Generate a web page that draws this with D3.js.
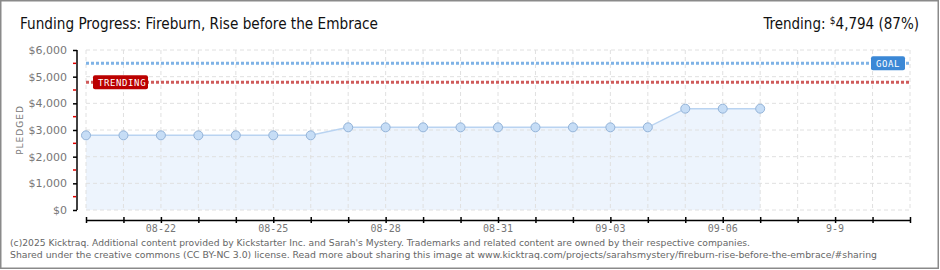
<!DOCTYPE html>
<meta charset="utf-8">
<style>
body { margin: 0; background: #fff; }
svg text { font-family: "DejaVu Sans", sans-serif; }
</style>
<svg width="940" height="270"></svg>
<script src="https://d3js.org/d3.v7.min.js"></script>
<script>

// data
var days = ["08-20","08-21","08-22","08-23","08-24","08-25","08-26","08-27","08-28","08-29",
            "08-30","08-31","09-01","09-02","09-03","09-04","09-05","09-06","09-07"];
var pledged = [2800,2800,2800,2800,2800,2800,2800,3100,3100,3100,
               3100,3100,3100,3100,3100,3100,3800,3800,3800];
var goal = 5500;
var trending = 4794;
var yTicks = [0,1000,2000,3000,4000,5000,6000];
var xLabels = ["08-22","08-25","08-28","08-31","09-03","09-06","9-9"];
var xLabelDays = ["08-22","08-25","08-28","08-31","09-03","09-06","09-09"];

var parse = d3.timeParse("%Y-%m-%d");
function day(s) { return parse("2025-" + s); }

var svg = d3.select("svg");

// frame
svg.append("rect").attr("x", 0.75).attr("y", 0.75).attr("width", 937.5).attr("height", 267.5)
  .attr("fill", "#fff").attr("stroke", "#8a8a8a").attr("stroke-width", 1.5);

var x = d3.scaleTime().domain([day("08-20"), day("09-11")]).range([86, 910]);
var y = d3.scaleLinear().domain([0, 6000]).range([210, 50]);

// title
svg.append("text").attr("x", 20).attr("y", 29)
  .attr("font-size", 15).attr("fill", "#111")
  .attr("textLength", 358).attr("lengthAdjust", "spacingAndGlyphs")
  .style("font-family", "'DejaVu Sans Condensed', sans-serif")
  .text("Funding Progress: Fireburn, Rise before the Embrace");

var tr = svg.append("text").attr("x", 919).attr("y", 29).attr("text-anchor", "end")
  .attr("font-size", 15).attr("fill", "#111")
  .style("font-family", "'DejaVu Sans Condensed', sans-serif");
tr.append("tspan").text("Trending:  ");
tr.append("tspan").attr("font-size", 10).attr("dy", -5).text("$");
tr.append("tspan").attr("dy", 5).text(d3.format(",")(trending) + " (" + Math.round(trending / goal * 100) + "%)");

// area
var pts = days.map(function(d, i) { return { date: day(d), v: pledged[i] }; });
svg.append("path").datum(pts)
  .attr("fill", "#edf4fd")
  .attr("d", d3.area().x(function(d) { return x(d.date); }).y0(y(0)).y1(function(d) { return y(d.v); }));

// grid
var allDays = d3.timeDay.range(day("08-20"), d3.timeDay.offset(day("09-11"), 1));
svg.append("g").selectAll("line").data(allDays).enter().append("line")
  .attr("x1", function(d) { return x(d); }).attr("x2", function(d) { return x(d); })
  .attr("y1", y(6000)).attr("y2", y(0))
  .attr("stroke", "#e0e0e0").attr("stroke-dasharray", "4,3");
svg.append("g").selectAll("line").data(yTicks).enter().append("line")
  .attr("x1", 86).attr("x2", 910)
  .attr("y1", function(d) { return y(d); }).attr("y2", function(d) { return y(d); })
  .attr("stroke", "#e0e0e0").attr("stroke-dasharray", "4,3");

// line
svg.append("path").datum(pts)
  .attr("fill", "none").attr("stroke", "#b9d3f1").attr("stroke-width", 1.5)
  .attr("d", d3.line().x(function(d) { return x(d.date); }).y(function(d) { return y(d.v); }));

// goal & trending lines
svg.append("line").attr("x1", 86).attr("x2", 910).attr("y1", y(goal)).attr("y2", y(goal))
  .attr("stroke", "#7fb3e6").attr("stroke-width", 3).attr("stroke-dasharray", "3,2");
svg.append("line").attr("x1", 86).attr("x2", 910).attr("y1", y(trending)).attr("y2", y(trending))
  .attr("stroke", "#cf5b5b").attr("stroke-width", 3).attr("stroke-dasharray", "3,2");

// points
svg.append("g").selectAll("circle").data(pts).enter().append("circle")
  .attr("cx", function(d) { return x(d.date); }).attr("cy", function(d) { return y(d.v); })
  .attr("r", 4.5).attr("fill", "#c6ddf6").attr("stroke", "#93b3d8").attr("stroke-width", 1);

// badges
function badge(bx, by, w, label, color) {
  svg.append("rect").attr("x", bx).attr("y", by).attr("width", w).attr("height", 14)
    .attr("rx", 2).attr("fill", color);
  svg.append("text").attr("x", bx + 5).attr("y", by + 10.5)
    .attr("font-size", 9).attr("fill", "#fff").attr("letter-spacing", 0.6)
    .style("font-family", "'DejaVu Sans Mono', monospace")
    .text(label);
}
badge(93, y(trending) - 7, 55, "TRENDING", "#bb0000");
badge(871, y(goal) - 7, 34, "GOAL", "#3b88d6");

// y axis
var yAxis = d3.axisLeft(y).tickValues(yTicks).tickSize(4).tickPadding(6)
  .tickFormat(d3.format("$,"));
var gy = svg.append("g").attr("transform", "translate(77,0)").call(yAxis);
gy.select(".domain").attr("stroke", "#000").attr("stroke-width", 1.5).attr("d", "M0,50V210");
gy.selectAll(".tick line").attr("stroke", "#000").attr("stroke-width", 1.5);
gy.selectAll(".tick text").attr("fill", "#777").attr("font-size", 11)
  .style("font-family", "'DejaVu Sans', sans-serif");
svg.append("g").selectAll("line").data(d3.range(500, 6000, 1000)).enter().append("line")
  .attr("x1", 73).attr("x2", 76).attr("y1", function(d) { return y(d); }).attr("y2", function(d) { return y(d); })
  .attr("stroke", "#e00000").attr("stroke-width", 1.5);

svg.append("text").attr("transform", "translate(23,130) rotate(-90)")
  .attr("text-anchor", "middle").attr("font-size", 9).attr("fill", "#777")
  .attr("letter-spacing", 1)
  .text("PLEDGED");

// x axis
var xAxis = d3.axisBottom(x).tickValues(allDays).tickSize(0).tickFormat("");
var gx = svg.append("g").attr("transform", "translate(0,220)").call(xAxis);
gx.select(".domain").attr("stroke", "#000").attr("stroke-width", 1.5);
gx.selectAll(".tick line").attr("y1", -3).attr("y2", 3).attr("stroke", "#000").attr("stroke-width", 1.5);
svg.append("g").selectAll("text").data(xLabelDays).enter().append("text")
  .attr("x", function(d) { return x(day(d)); }).attr("y", 232)
  .attr("text-anchor", "middle").attr("font-size", 10).attr("fill", "#777")
  .style("font-family", "'DejaVu Sans Mono', monospace")
  .text(function(d, i) { return xLabels[i]; });

// footer
svg.append("text").attr("x", 10).attr("y", 246).attr("font-size", 9.5).attr("fill", "#666")
  .attr("textLength", 740).attr("lengthAdjust", "spacingAndGlyphs")
  .text("(c)2025 Kicktraq. Additional content provided by Kickstarter Inc. and Sarah's Mystery. Trademarks and related content are owned by their respective companies.");
svg.append("text").attr("x", 10).attr("y", 258).attr("font-size", 9.5).attr("fill", "#666")
  .attr("textLength", 867).attr("lengthAdjust", "spacingAndGlyphs")
  .text("Shared under the creative commons (CC BY-NC 3.0) license. Read more about sharing this image at www.kicktraq.com/projects/sarahsmystery/fireburn-rise-before-the-embrace/#sharing");
</script>
